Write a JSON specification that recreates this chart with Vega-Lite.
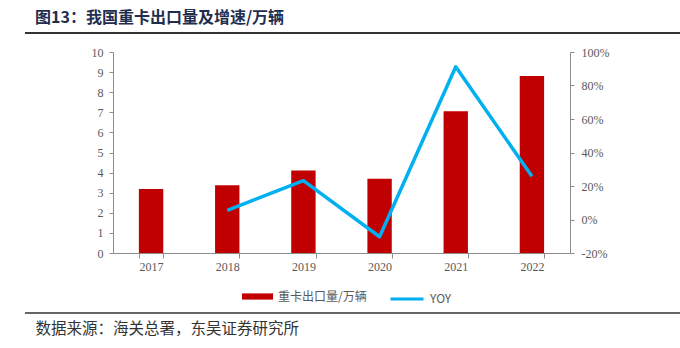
{
  "$schema": "https://vega.github.io/schema/vega-lite/v6.json",
  "width": 457,
  "height": 201,
  "autosize": {"type": "none"},
  "padding": {"left": 113, "top": 52, "right": 110, "bottom": 95},
  "background": "white",
  "title": {
    "text": "图13：我国重卡出口量及增速/万辆",
    "anchor": "start",
    "frame": "group",
    "dx": -78,
    "offset": 6,
    "font": "Noto Sans CJK SC",
    "fontSize": 16,
    "fontWeight": "bold",
    "color": "#1f2d4e"
  },
  "config": {
    "view": {"stroke": null},
    "axis": {
      "labelFont": "Liberation Serif",
      "labelFontSize": 12,
      "labelColor": "#595959",
      "domainColor": "#8c8c8c",
      "tickColor": "#8c8c8c",
      "tickSize": 4,
      "grid": false
    },
    "legend": {"padding": 0, "labelFont": "Noto Sans CJK SC", "labelFontSize": 12, "labelColor": "#595959", "labelOffset": 5}
  },
  "data": {
    "values": [
      {"year": "2017", "volume": 3.18, "yoy": null},
      {"year": "2018", "volume": 3.37, "yoy": 5.5},
      {"year": "2019", "volume": 4.11, "yoy": 23.2},
      {"year": "2020", "volume": 3.70, "yoy": -10.3},
      {"year": "2021", "volume": 7.05, "yoy": 91.2},
      {"year": "2022", "volume": 8.81, "yoy": 25.8}
    ]
  },
  "layer": [
    {
      "layer": [
        {
          "mark": {"type": "bar"},
          "encoding": {
            "x": {
              "field": "year",
              "type": "ordinal",
              "scale": {"paddingInner": 0.68, "paddingOuter": 0.34},
              "axis": {
                "labelAngle": 0,
                "tickBand": "extent",
                "tickSize": 5,
                "labelPadding": 3,
                "title": "数据来源：海关总署，东吴证券研究所",
                "titleFont": "Noto Sans CJK SC",
                "titleFontSize": 15.5,
                "titleFontWeight": "normal",
                "titleColor": "#333333",
                "titleX": -78,
                "titleY": 75,
                "titleAlign": "left",
                "titleAnchor": "start",
                "titleBaseline": "middle"
              }
            },
            "y": {
              "field": "volume",
              "type": "quantitative",
              "scale": {"domain": [0, 10], "nice": false},
              "axis": {"orient": "left", "values": [0,1,2,3,4,5,6,7,8,9,10], "title": null, "labelPadding": 6}
            },
            "color": {
              "datum": "重卡出口量/万辆",
              "scale": {"range": ["#c00000"]},
              "legend": {
                "title": null,
                "orient": "none",
                "legendX": 129,
                "legendY": 229,
                "symbolType": "M-1,-0.2H1V0.2H-1Z",
                "symbolSize": 961,
                "symbolStrokeWidth": 0
              }
            }
          }
        },
        {
          "mark": {"type": "line", "strokeWidth": 3.5, "strokeJoin": "round"},
          "encoding": {
            "x": {"field": "year", "type": "ordinal"},
            "y": {
              "field": "yoy",
              "type": "quantitative",
              "scale": {"domain": [-20, 100], "nice": false},
              "axis": {"orient": "right", "values": [-20,0,20,40,60,80,100], "labelExpr": "datum.value + '%'", "title": null, "labelPadding": 7}
            },
            "stroke": {
              "datum": "YOY",
              "scale": {"range": ["#00b0f0"]},
              "legend": {
                "title": null,
                "orient": "none",
                "legendX": 276,
                "legendY": 229,
                "symbolType": "stroke",
                "symbolSize": 1089,
                "symbolStrokeWidth": 3
              }
            }
          }
        }
      ],
      "resolve": {"scale": {"y": "independent"}}
    },
    {
      "data": {"values": [{}]},
      "mark": {"type": "rule", "color": "#333333", "strokeWidth": 2},
      "encoding": {
        "x": {"datum": -0.1926, "type": "quantitative", "scale": {"domain": [0, 1]}, "axis": null},
        "x2": {"datum": 1.2407},
        "y": {"datum": 10.945, "type": "quantitative", "scale": {"domain": [0, 10], "nice": false}, "axis": null}
      }
    },
    {
      "data": {"values": [{}]},
      "mark": {"type": "rule", "color": "#333333", "strokeWidth": 1.5},
      "encoding": {
        "x": {"datum": -0.1926, "type": "quantitative", "scale": {"domain": [0, 1]}, "axis": null},
        "x2": {"datum": 1.2407},
        "y": {"datum": -2.985, "type": "quantitative", "scale": {"domain": [0, 10], "nice": false}, "axis": null}
      }
    }
  ],
  "resolve": {"scale": {"x": "independent", "y": "independent"}}
}
